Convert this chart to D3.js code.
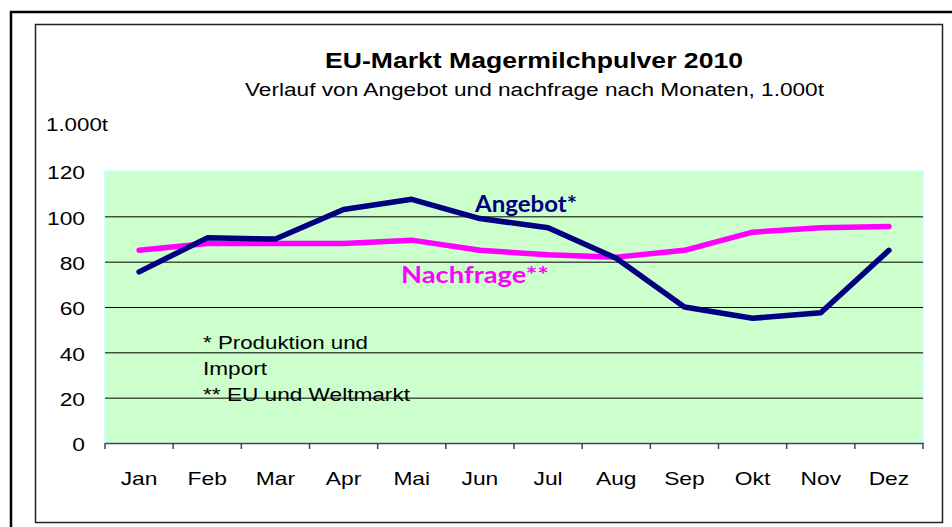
<!DOCTYPE html>
<html>
<head>
<meta charset="utf-8">
<script src="https://cdn.jsdelivr.net/npm/d3@7"></script>
<style>
  body { margin: 0; background: #fff; }
  svg { display: block; font-family: "Liberation Sans", Arial, sans-serif; }
</style>
</head>
<body>
<div id="chart"></div>
<script>
        // Data
        var months = ["Jan", "Feb", "Mar", "Apr", "Mai", "Jun", "Jul", "Aug", "Sep", "Okt", "Nov", "Dez"];
        var angebot = [75.5, 90.5, 90, 103, 107.5, 99, 95, 81.5, 60, 55, 57.5, 85];
        var nachfrage = [85, 88, 88, 88, 89.5, 85, 83, 82, 85, 93, 95, 95.5];
        var yTicks = [0, 20, 40, 60, 80, 100, 120];

        var W = 952, H = 527;
        var margin = { top: 171, right: 29, bottom: 84, left: 105 };
        var width = W - margin.left - margin.right;
        var height = H - margin.top - margin.bottom;

        // the source picture is stretched sideways, so text gets stretched too
        var stretch = 1.2;
        function widen(sel) {
            sel.each(function () {
                var w = this.getComputedTextLength();
                d3.select(this).attr("textLength", w * stretch).attr("lengthAdjust", "spacingAndGlyphs");
            });
        }

        var root = d3.select("#chart")
            .append("svg")
            .attr("width", W)
            .attr("height", H);

        // Frames
        root.append("path")
            .attr("d", "M11,530 L11,12 L955,12")
            .attr("fill", "none")
            .attr("stroke", "#000")
            .attr("stroke-width", 2.5);
        root.append("rect")
            .attr("x", 35.5).attr("y", 24.5)
            .attr("width", 907).attr("height", 498)
            .attr("fill", "#fff")
            .attr("stroke", "#222")
            .attr("stroke-width", 1.5);

        // Titles
        root.append("text")
            .attr("x", 325).attr("y", 68)
            .attr("textLength", 418)
            .attr("lengthAdjust", "spacingAndGlyphs")
            .style("font-size", "22px")
            .style("font-weight", "bold")
            .text("EU-Markt Magermilchpulver 2010");
        root.append("text")
            .attr("x", 245).attr("y", 96)
            .attr("textLength", 579)
            .attr("lengthAdjust", "spacingAndGlyphs")
            .style("font-size", "18px")
            .text("Verlauf von Angebot und nachfrage nach Monaten, 1.000t");
        root.append("text")
            .attr("x", 46).attr("y", 131)
            .attr("textLength", 62)
            .attr("lengthAdjust", "spacingAndGlyphs")
            .style("font-size", "19px")
            .text("1.000t");

        var svg = root.append("g")
            .attr("transform", "translate(" + margin.left + "," + margin.top + ")");

        var xScale = d3.scaleBand()
            .domain(months)
            .range([0, width]);

        var yScale = d3.scaleLinear()
            .domain([0, 120])
            .range([height, 0]);

        // Plot background
        svg.append("rect")
            .attr("x", 0).attr("y", 0)
            .attr("width", width).attr("height", height)
            .attr("fill", "#ccffcc")
            .attr("stroke", "#ccffff")
            .attr("stroke-width", 2);

        // Gridlines
        svg.append("g")
            .call(d3.axisLeft(yScale).tickValues(yTicks.slice(1, -1)).tickSize(-width).tickFormat(""))
            .call(function (g) { g.select(".domain").remove(); })
            .selectAll("line")
            .attr("stroke", "#000")
            .attr("stroke-width", 1);

        // Y labels
        svg.append("g")
            .call(d3.axisLeft(yScale).tickValues(yTicks).tickSize(0).tickPadding(20))
            .call(function (g) { g.select(".domain").remove(); })
            .selectAll("text")
            .attr("dy", "0.42em")
            .style("font-size", "19px")
            .style("font-family", "'Liberation Sans', Arial, sans-serif")
            .attr("fill", "#000")
            .call(widen);

        // X axis labels
        svg.append("g")
            .attr("transform", "translate(0," + height + ")")
            .call(d3.axisBottom(xScale).tickSize(0).tickPadding(29))
            .call(function (g) { g.select(".domain").attr("stroke", "#444").attr("stroke-width", 1.5); })
            .selectAll("text")
            .style("font-size", "19px")
            .style("font-family", "'Liberation Sans', Arial, sans-serif")
            .attr("fill", "#000")
            .call(widen);

        // Tick marks at category boundaries
        var bounds = months.map(function (m) { return xScale(m); }).concat([xScale(months[months.length - 1]) + xScale.bandwidth()]);
        svg.append("g")
            .selectAll("line")
            .data(bounds)
            .enter()
            .append("line")
            .attr("x1", function (d) { return d; })
            .attr("x2", function (d) { return d; })
            .attr("y1", height)
            .attr("y2", height + 6)
            .attr("stroke", "#444")
            .attr("stroke-width", 1.5);

        var line = d3.line()
            .x(function (d, i) { return xScale(months[i]) + xScale.bandwidth() / 2; })
            .y(function (d) { return yScale(d); });

        svg.append("path")
            .datum(nachfrage)
            .attr("d", line)
            .attr("fill", "none")
            .attr("stroke", "#ff00ff")
            .attr("stroke-width", 5.5)
            .attr("stroke-linecap", "round")
            .attr("stroke-linejoin", "round");

        svg.append("path")
            .datum(angebot)
            .attr("d", line)
            .attr("fill", "none")
            .attr("stroke", "#000080")
            .attr("stroke-width", 5.5)
            .attr("stroke-linecap", "round")
            .attr("stroke-linejoin", "round");

        // Series labels
        root.append("text")
            .attr("x", 475).attr("y", 212)
            .attr("textLength", 102)
            .attr("lengthAdjust", "spacingAndGlyphs")
            .style("font-family", "Lato, 'Open Sans', sans-serif")
            .style("font-size", "23px")
            .style("font-weight", "bold")
            .attr("fill", "#000080")
            .text("Angebot*");
        root.append("text")
            .attr("x", 401).attr("y", 283)
            .attr("textLength", 148)
            .attr("lengthAdjust", "spacingAndGlyphs")
            .style("font-family", "Lato, 'Open Sans', sans-serif")
            .style("font-size", "23px")
            .style("font-weight", "bold")
            .attr("fill", "#ff00ff")
            .text("Nachfrage**");

        // Footnotes
        var notes = ["* Produktion und", "Import", "** EU und Weltmarkt"];
        var noteWidths = [165, 64, 207];
        root.append("g")
            .selectAll("text")
            .data(notes)
            .enter()
            .append("text")
            .attr("x", 203)
            .attr("y", function (d, i) { return 349 + i * 26; })
            .attr("textLength", function (d, i) { return noteWidths[i]; })
            .attr("lengthAdjust", "spacingAndGlyphs")
            .style("font-size", "19px")
            .attr("fill", "#000")
            .text(function (d) { return d; });
</script>
</body>
</html>
